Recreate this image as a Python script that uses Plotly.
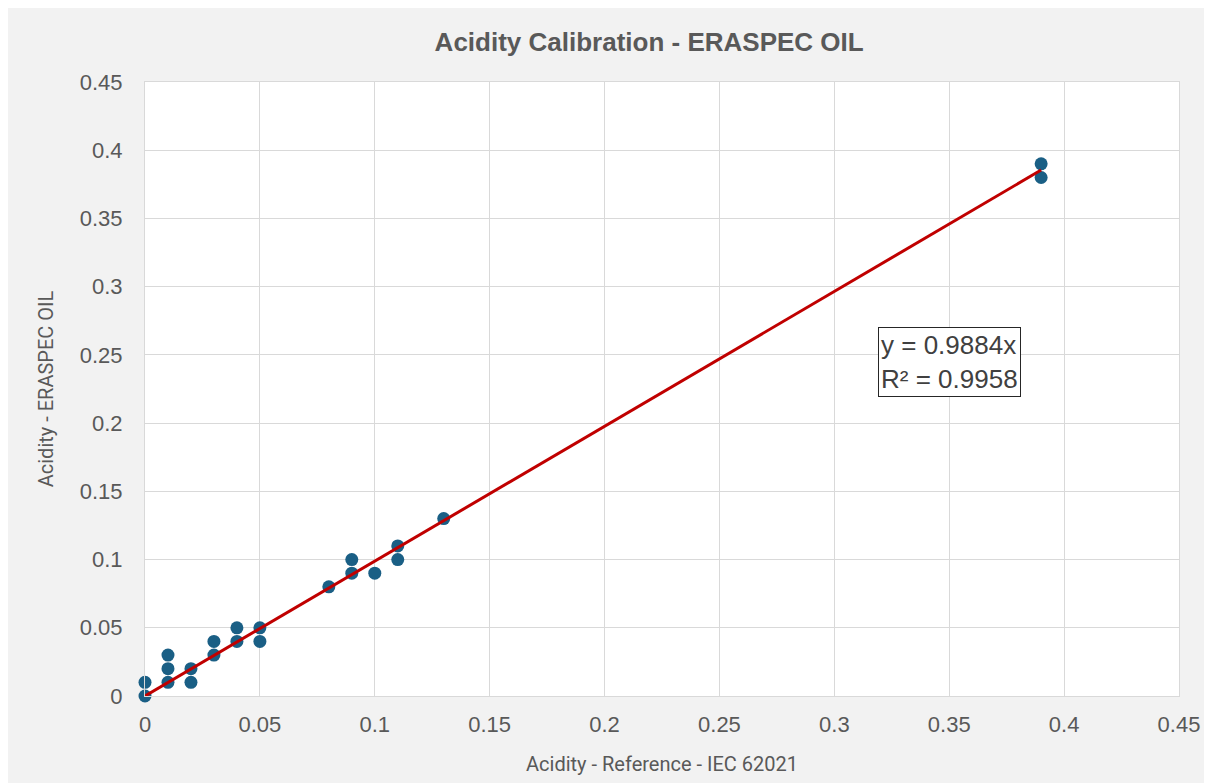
import plotly.graph_objects as go

# Data
ref_x = [0, 0, 0.01, 0.01, 0.01, 0.02, 0.02, 0.03, 0.03, 0.04, 0.04, 0.05, 0.05,
         0.08, 0.09, 0.09, 0.10, 0.11, 0.11, 0.13, 0.39, 0.39]
eraspec_y = [0, 0.01, 0.01, 0.02, 0.03, 0.01, 0.02, 0.03, 0.04, 0.04, 0.05, 0.04, 0.05,
             0.08, 0.09, 0.10, 0.09, 0.10, 0.11, 0.13, 0.38, 0.39]
slope = 0.9884
r2 = 0.9958
trend_x = [0, 0.39]
trend_y = [slope * v for v in trend_x]
tick_vals = [0, 0.05, 0.1, 0.15, 0.2, 0.25, 0.3, 0.35, 0.4, 0.45]
tick_text = ["0", "0.05", "0.1", "0.15", "0.2", "0.25", "0.3", "0.35", "0.4", "0.45"]

fig = go.Figure()
fig.add_trace(go.Scatter(x=ref_x, y=eraspec_y, mode="markers",
                         marker=dict(color="#1a5f85", size=13),
                         showlegend=False, cliponaxis=False))
fig.add_trace(go.Scatter(x=trend_x, y=trend_y, mode="lines",
                         line=dict(color="#c00000", width=3),
                         showlegend=False, cliponaxis=False))

fig.add_annotation(x=0.319, y=0.2704, xref="x", yref="y",
                   xanchor="left", yanchor="top", align="left",
                   text=f"y = {slope}x<br>R² = {r2}",
                   showarrow=False,
                   font=dict(family="Liberation Sans, Arial", size=26, color="#404040"),
                   bordercolor="#262626", borderwidth=1, borderpad=2,
                   bgcolor="white")

axis_common = dict(
    range=[0, 0.45], tickvals=tick_vals, ticktext=tick_text,
    showgrid=True, gridcolor="#d9d9d9", gridwidth=1,
    zeroline=False, showline=True, linecolor="#d9d9d9", linewidth=1, mirror=True,
    tickfont=dict(family="Liberation Sans, Arial", size=22, color="#595959"),
)

fig.update_xaxes(**axis_common, ticklabelstandoff=9,
                 title=dict(text="Acidity - Reference - IEC 62021",
                            font=dict(family="Roboto", size=20, color="#595959"),
                            standoff=20))
fig.update_yaxes(**axis_common, ticklabelstandoff=17,
                 title=dict(text="Acidity - ERASPEC OIL",
                            font=dict(family="Roboto", size=20, color="#595959"),
                            standoff=20))

fig.update_layout(
    width=1212, height=783,
    margin=dict(l=137, r=41, t=74, b=95),
    paper_bgcolor="#f2f2f2", plot_bgcolor="white",
    title=dict(text="<b>Acidity Calibration - ERASPEC OIL</b>",
               x=0.529, xanchor="center", y=0.9566, yanchor="middle",
               font=dict(family="Liberation Sans, Arial", size=26, color="#595959")),
)

fig.write_html("out.html")
